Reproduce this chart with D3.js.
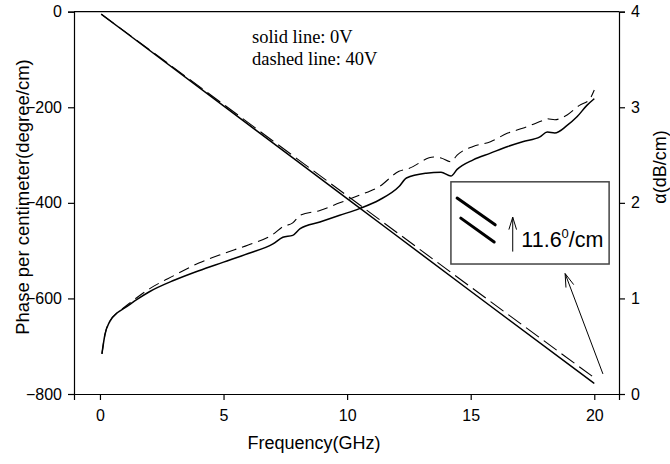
<!DOCTYPE html>
<html>
<head>
<meta charset="utf-8">
<script src="https://cdn.jsdelivr.net/npm/d3@7"></script>
<style>
  body { margin: 0; background: #fff; }
  svg { display: block; }
  .axis text { font-family: "Liberation Sans", Arial, sans-serif; font-size: 16px; fill: #000; }
  .axis path, .axis line { stroke: #000; stroke-width: 1.2px; }
</style>
</head>
<body>
<svg width="670" height="464"></svg>
<script>
var svg = d3.select("svg");

// frequency (GHz) for the phase lines
var phaseFreq = [0.05, 5, 10, 15, 20];
var phaseSolid = [-5, -197, -391, -585, -778];   // 0V
var phaseDashed = [-5, -194, -385, -576, -766];  // 40V

// attenuation alpha (dB/cm), 0V
var alphaFreqSolid = [0.08, 0.2, 0.4, 0.7, 1.0, 1.5, 2.0, 3.0, 4.0, 5.0, 6.0, 7.0, 7.4, 7.8, 8.1,
    8.9, 9.7, 10.5, 11.3, 12.1, 12.4, 13.2, 13.8, 14.2, 14.45, 15.1, 15.8, 16.5, 17.1, 17.8,
    18.1, 18.4, 18.9, 19.3, 19.7, 20.0];
var alphaSolid = [0.42, 0.62, 0.76, 0.85, 0.90, 0.99, 1.07, 1.19, 1.29, 1.38, 1.47, 1.57, 1.64, 1.66, 1.73,
    1.80, 1.87, 1.94, 2.03, 2.17, 2.26, 2.31, 2.32, 2.28, 2.35, 2.45, 2.52, 2.59, 2.64, 2.69,
    2.74, 2.73, 2.81, 2.90, 3.02, 3.09];

// attenuation alpha (dB/cm), 40V
var alphaFreqDashed = [0.08, 0.2, 0.4, 0.7, 1.0, 1.5, 2.0, 3.0, 4.0, 5.0, 6.0, 7.0, 7.4, 7.8, 8.1,
    8.9, 9.7, 10.5, 11.3, 12.1, 12.5, 13.5, 13.8, 14.2, 14.45, 15.1, 15.8, 16.5, 17.1, 17.8,
    18.1, 18.4, 18.9, 19.4, 19.8, 20.0];
var alphaDashed = [0.42, 0.62, 0.76, 0.85, 0.91, 1.01, 1.10, 1.24, 1.37, 1.47, 1.56, 1.67, 1.75, 1.79, 1.87,
    1.92, 2.00, 2.08, 2.17, 2.33, 2.36, 2.48, 2.47, 2.43, 2.50, 2.59, 2.64, 2.73, 2.78, 2.85,
    2.88, 2.87, 2.92, 3.02, 3.08, 3.18];

var xTicks = [0, 5, 10, 15, 20];
var phaseTicks = [-800, -600, -400, -200, 0];
var alphaTicks = [0, 1, 2, 3, 4];

var x = d3.scaleLinear().domain([-1.05, 21.0]).range([74, 619]);
var yL = d3.scaleLinear().domain([-800, 0]).range([394, 11.7]);
var yR = d3.scaleLinear().domain([0, 4]).range([394, 11.7]);

// frame top
svg.append("line")
    .attr("x1", x(-1.05)).attr("x2", x(21.0))
    .attr("y1", yL(0)).attr("y2", yL(0))
    .attr("stroke", "#000").attr("stroke-width", 1.2);

svg.append("g").attr("class", "axis")
    .attr("transform", "translate(0," + yL(-800) + ")")
    .call(d3.axisBottom(x).tickValues(xTicks).tickSizeOuter(0).tickSize(6).tickPadding(10));

svg.append("g").attr("class", "axis")
    .attr("transform", "translate(" + x(-1.05) + ",0)")
    .call(d3.axisLeft(yL).tickValues(phaseTicks).tickSizeOuter(0).tickSize(6).tickPadding(6));

svg.append("g").attr("class", "axis")
    .attr("transform", "translate(" + x(21.0) + ",0)")
    .call(d3.axisRight(yR).tickValues(alphaTicks).tickFormat(d3.format("d")).tickSizeOuter(0).tickSize(6).tickPadding(6));

// lines
function drawLine(fs, vs, y, dash, w) {
    var pts = fs.map(function(f, i) { return [f, vs[i]]; });
    var line = d3.line()
        .x(function(d) { return x(d[0]); })
        .y(function(d) { return y(d[1]); })
        .curve(d3.curveMonotoneX);
    svg.append("path")
        .datum(pts)
        .attr("d", line)
        .attr("fill", "none")
        .attr("stroke", "#000")
        .attr("stroke-width", w)
        .attr("stroke-dasharray", dash);
}
drawLine(phaseFreq, phaseSolid, yL, null, 1.5);
drawLine(phaseFreq, phaseDashed, yL, "16,6", 1.1);
drawLine(alphaFreqSolid, alphaSolid, yR, null, 1.5);
drawLine(alphaFreqDashed, alphaDashed, yR, "11,6", 1.1);

// axis titles
svg.append("text")
    .attr("transform", "translate(29,197) rotate(-90)")
    .attr("text-anchor", "middle")
    .style("font-family", "Liberation Sans, Arial, sans-serif")
    .style("font-size", "18.5px")
    .text("Phase per centimeter(degree/cm)");
svg.append("text")
    .attr("x", 314).attr("y", 449)
    .attr("text-anchor", "middle")
    .style("font-family", "Liberation Sans, Arial, sans-serif")
    .style("font-size", "18px")
    .text("Frequency(GHz)");
svg.append("text")
    .attr("transform", "translate(666,167) rotate(-90)")
    .attr("text-anchor", "middle")
    .style("font-family", "Liberation Sans, Arial, sans-serif")
    .style("font-size", "18px")
    .text("\u03b1(dB/cm)");

// legend note
var note = svg.append("g")
    .style("font-family", "Liberation Serif, Times New Roman, serif")
    .style("font-size", "18.5px");
note.append("text").attr("x", 252).attr("y", 43).text("solid line: 0V");
note.append("text").attr("x", 252).attr("y", 65).text("dashed line: 40V");

// inset box (in data coordinates)
var box = svg.append("g");
box.append("rect")
    .attr("x", x(14.2)).attr("y", yR(2.22))
    .attr("width", x(20.6) - x(14.2)).attr("height", yR(1.36) - yR(2.22))
    .attr("fill", "#fff").attr("stroke", "#444").attr("stroke-width", 1.5);
box.append("line")
    .attr("x1", x(14.45)).attr("y1", yR(2.05)).attr("x2", x(15.99)).attr("y2", yR(1.77))
    .attr("stroke", "#000").attr("stroke-width", 3).attr("stroke-linecap", "round");
box.append("line")
    .attr("x1", x(14.6)).attr("y1", yR(1.84)).attr("x2", x(15.95)).attr("y2", yR(1.59))
    .attr("stroke", "#000").attr("stroke-width", 3).attr("stroke-linecap", "round");

function arrow(f0, a0, f1, a1, head) {
    var x0 = x(f0), y0 = yR(a0), x1 = x(f1), y1 = yR(a1);
    var ang = Math.atan2(y1 - y0, x1 - x0);
    svg.append("line")
        .attr("x1", x0).attr("y1", y0).attr("x2", x1).attr("y2", y1)
        .attr("stroke", "#000").attr("stroke-width", 1);
    [-0.3, 0.3].forEach(function(s) {
        svg.append("line")
            .attr("x1", x1).attr("y1", y1)
            .attr("x2", x1 - head * Math.cos(ang + s))
            .attr("y2", y1 - head * Math.sin(ang + s))
            .attr("stroke", "#000").attr("stroke-width", 1);
    });
}
arrow(16.7, 1.49, 16.7, 1.85, 13);
arrow(20.35, 0.21, 18.82, 1.26, 14);

var lbl = svg.append("text")
    .attr("x", x(17.05)).attr("y", yR(1.54))
    .style("font-family", "Liberation Sans, Arial, sans-serif")
    .style("font-size", "21.5px");
lbl.append("tspan").text("11.6");
lbl.append("tspan").attr("dy", -9).style("font-size", "13px").text("0");
lbl.append("tspan").attr("dy", 9).text("/cm");
</script>
</body>
</html>
